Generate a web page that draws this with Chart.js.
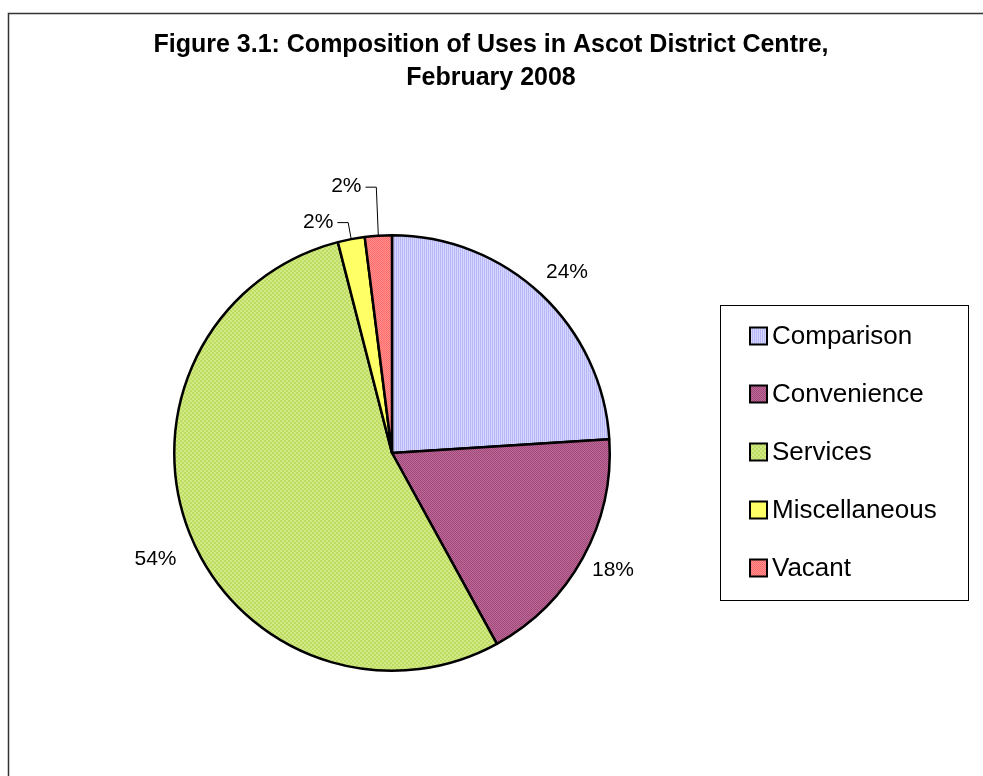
<!DOCTYPE html>
<html>
<head>
<meta charset="utf-8">
<script src="https://cdn.jsdelivr.net/npm/chart.js@4/dist/chart.umd.min.js"></script>
<style>
  body { margin: 0; background: #fff; }
  #wrap { width: 983px; height: 776px; }
</style>
</head>
<body>
<div id="wrap"><canvas id="my_chart" width="983" height="776"></canvas></div>
<script>
var categories = ['Comparison', 'Convenience', 'Services', 'Miscellaneous', 'Vacant']
var shares = [24, 18, 54, 2, 2]
var title_lines = ['Figure 3.1: Composition of Uses in Ascot District Centre,', 'February 2008']

// fill patterns, roughly like the Excel hatch fills
function make_pattern(base, dot, kind) {
  var c = document.createElement('canvas')
  c.width = 4; c.height = 4
  var g = c.getContext('2d')
  g.fillStyle = base
  g.fillRect(0, 0, 4, 4)
  g.fillStyle = dot
  for (var x = 0; x < 4; x++) {
    for (var y = 0; y < 4; y++) {
      if (kind == 'v' && x % 2 == 0) g.fillRect(x, y, 1, 1)
      if (kind == 'check' && (x + y) % 2 == 0) g.fillRect(x, y, 1, 1)
      if (kind == 'check2' && (Math.floor(x / 2) + Math.floor(y / 2)) % 2 == 0) g.fillRect(x, y, 1, 1)
    }
  }
  return g.createPattern(c, 'repeat')
}

var fills = [
  make_pattern('#d6d6ff', '#b8b8f6', 'v'),
  make_pattern('#c2679a', '#9c4a78', 'check'),
  make_pattern('#d2ea86', '#bfdc62', 'check2'),
  '#ffff66',
  make_pattern('#ff9090', '#ff6a6a', 'check')
]

// big slices: distance of the label beyond the pie edge, plus a small nudge
var label_dist = [35, 31, 42]
var label_nudge = [[2, 3], [3, -3], [5, 11]]
// small slices: label centre and leader bend, relative to the edge point
var small_labels = {
  3: { lx: -33, ly: -17, bx: -3 },
  4: { lx: -32, ly: -49, bx: -2 }
}

var extras = {
  id: 'extras',
  afterDraw: function(chart) {
    var ctx = chart.ctx
    ctx.save()
    // frame (left and top only visible)
    ctx.strokeStyle = '#333'
    ctx.lineWidth = 1.5
    ctx.beginPath()
    ctx.moveTo(8.5, 776)
    ctx.lineTo(8.5, 13.5)
    ctx.lineTo(983, 13.5)
    ctx.stroke()

    // title
    ctx.fillStyle = '#000'
    ctx.font = 'bold 25px "Liberation Sans", Arial, sans-serif'
    ctx.textAlign = 'center'
    ctx.textBaseline = 'middle'
    ctx.fillText(title_lines[0], 491, 45)
    ctx.fillText(title_lines[1], 491, 78)

    // data labels
    var meta = chart.getDatasetMeta(0)
    var total = shares.reduce(function(a, b) { return a + b }, 0)
    ctx.font = '21px "Liberation Sans", Arial, sans-serif'
    meta.data.forEach(function(arc, i) {
      var p = arc.getProps(['x', 'y', 'startAngle', 'endAngle', 'outerRadius'], true)
      var mid = (p.startAngle + p.endAngle) / 2
      var txt = Math.round(shares[i] / total * 100) + '%'
      var ex = p.x + Math.cos(mid) * p.outerRadius
      var ey = p.y + Math.sin(mid) * p.outerRadius
      if (small_labels[i]) {
        var s = small_labels[i]
        ctx.fillText(txt, ex + s.lx, ey + s.ly)
        var w = ctx.measureText(txt).width
        ctx.strokeStyle = '#000'
        ctx.lineWidth = 1
        ctx.beginPath()
        ctx.moveTo(ex + s.lx + w / 2 + 4, ey + s.ly + 0.5)
        ctx.lineTo(ex + s.bx, ey + s.ly + 0.5)
        ctx.lineTo(ex, ey)
        ctx.stroke()
      } else {
        var d = p.outerRadius + label_dist[i]
        ctx.fillText(txt, p.x + Math.cos(mid) * d + label_nudge[i][0], p.y + Math.sin(mid) * d + label_nudge[i][1])
      }
    })

    // legend
    ctx.strokeStyle = '#000'
    ctx.lineWidth = 1
    ctx.strokeRect(720.5, 305.5, 248, 295)
    ctx.font = '26px "Liberation Sans", Arial, sans-serif'
    ctx.textAlign = 'left'
    categories.forEach(function(name, i) {
      var cy = 336 + i * 58
      ctx.fillStyle = fills[i]
      ctx.fillRect(750, cy - 8.5, 17, 17)
      ctx.lineWidth = 2
      ctx.strokeRect(750, cy - 8.5, 17, 17)
      ctx.fillStyle = '#000'
      ctx.fillText(name, 772, cy + 1)
    })
    ctx.restore()
  }
}

ctx = document.getElementById('my_chart')
my_chart = new Chart(ctx, {
  type: 'pie',
  data: {
    labels: categories,
    datasets: [{
      data: shares,
      backgroundColor: fills,
      borderColor: '#000',
      borderWidth: 2.5
    }]
  },
  options: {
    responsive: false,
    animation: false,
    rotation: 0,
    layout: { padding: { left: 173, right: 372, top: 234, bottom: 104 } },
    plugins: {
      legend: { display: false },
      title: { display: false },
      tooltip: { enabled: false }
    }
  },
  plugins: [extras]
})
</script>
</body>
</html>
